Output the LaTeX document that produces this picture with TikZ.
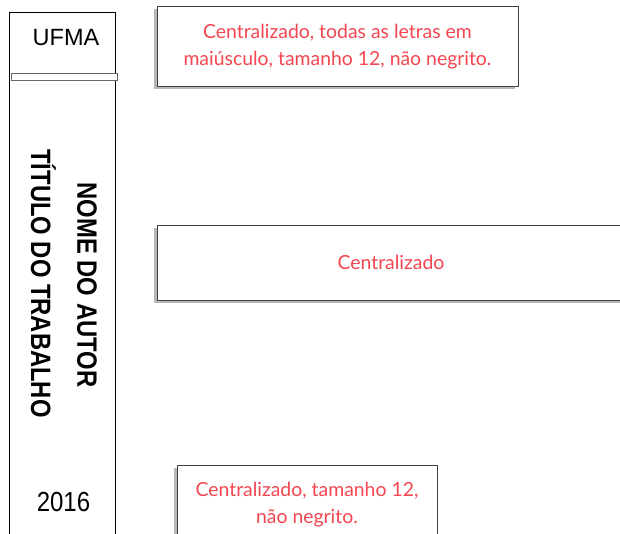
\documentclass[tikz,border=0pt]{standalone}
\usepackage{fontspec}
\setmainfont{Liberation Sans}
\newfontfamily\callfont{Lato}
\usetikzlibrary{shadows}
\definecolor{callred}{RGB}{244,70,80}
\definecolor{boxline}{RGB}{64,64,64}
\tikzset{
  callout/.style={draw=boxline, line width=0.9pt, fill=white,
    drop shadow={shadow xshift=-3pt, shadow yshift=-3pt, opacity=0.4, fill=black!70}},
  calltext/.style={text=callred, font=\callfont\fontsize{19.4}{27}\selectfont, align=center},
  spinetext/.style={font=\fontsize{28}{30}\selectfont\bfseries, rotate=-90, anchor=center},
}
\begin{document}
\begin{tikzpicture}[x=1pt,y=-1pt]
\useasboundingbox (0,0) rectangle (620,534);
\clip (0,0) rectangle (620,534);
% spine
\draw[line width=0.9pt] (9.5,600) -- (9.5,12) coordinate (sptl) -- (115.5,12) coordinate (sptr) -- (115.5,600);
\draw[line width=0.8pt, draw=black!60, fill=white] (11,73.5) rectangle (117,80.5);
\node[font=\fontsize{23.5}{26}\selectfont] (ufma) at (66,37.5) {UFMA};
\node[spinetext] (autor) at (87,285) {\scalebox{0.85}[1]{NOME DO AUTOR}};
\node[spinetext] (titulo) at (43.5,283.5) {\scalebox{0.85}[1]{TÍTULO DO TRABALHO}};
\node[font=\fontsize{24}{26}\selectfont] (ano) at (63.5,502) {\scalebox{1}[1.15]{2016}};
% callouts
\draw[callout] (157,6) rectangle (518,86);
\node[calltext] (t1) at (337.5,47) {Centralizado, todas as letras em\\maiúsculo, tamanho 12, não negrito.};
\draw[callout] (157,225) rectangle (626,300);
\node[calltext] (t2) at (391,262.5) {Centralizado};
\draw[callout] (177,465) rectangle (437,560);
\node[calltext] (t3) at (307,505) {Centralizado, tamanho 12,\\não negrito.};
\end{tikzpicture}
\end{document}
